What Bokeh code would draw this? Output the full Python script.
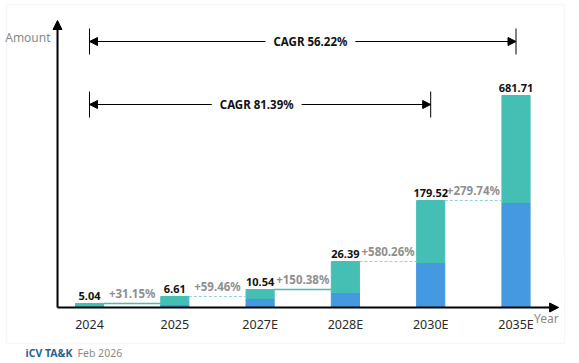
import numpy as np
from bokeh.plotting import figure
from bokeh.models import Range1d, Arrow, NormalHead, Label, BoxAnnotation
from bokeh.core.properties import value
from bokeh.embed import file_html
from bokeh.resources import INLINE

# ---- data ----
years = ["2024", "2025", "2027E", "2028E", "2030E", "2035E"]
totals_label = ["5.04", "6.61", "10.54", "26.39", "179.52", "681.71"]
growth_labels = ["+31.15%", "+59.46%", "+150.38%", "+580.26%", "+279.74%"]
connector_style = ["solid", "dashed", "solid", "dashed", "dashed"]
# segment heights as drawn in the picture (relative display units)
blue_seg = [1, 3, 9, 15, 45, 105]
teal_seg = [3, 8, 9, 31, 62, 107]
cagr_labels = ["CAGR 56.22%", "CAGR 81.39%"]
cagr_spans = [(0, 5), (0, 4)]

FONT = "Noto Sans"
BLUE = "#4499e0"
TEAL = "#45bfb4"

idx = np.arange(len(years), dtype=float)
blue = np.array(blue_seg, dtype=float)
total = blue + np.array(teal_seg, dtype=float)
W = 0.33

p = figure(width=579, height=363, output_backend="svg", toolbar_location=None,
           x_range=Range1d(-1.0434, 5.7444), y_range=Range1d(-56, 307),
           x_axis_type=None, y_axis_type=None, min_border=0)
p.grid.visible = False
p.outline_line_color = None
p.background_fill_color = "white"

# frame
p.add_layout(BoxAnnotation(left=-0.973, right=5.569, top=303, bottom=-36,
                           fill_alpha=0, line_color="#e3e3e3", line_width=1.5))

# bars
p.vbar(x=idx, bottom=0, top=blue, width=W, color=BLUE)
p.vbar(x=idx, bottom=blue, top=total, width=W, color=TEAL)

# connectors
for i, st in enumerate(connector_style):
    x0 = idx[i] + W / 2
    x1 = idx[i + 1] - W / 2
    if st == "solid":
        p.segment(x0=[x0], x1=[x1], y0=[total[i]], y1=[total[i]],
                  line_color=TEAL, line_width=1.5)
    else:
        p.segment(x0=[x0], x1=[x1], y0=[total[i]], y1=[total[i]],
                  line_color="#93cfe6", line_width=1.2, line_dash="3 2")
    p.text(x=[(x0 + x1) / 2], y=[total[i] + 3], text=[growth_labels[i]],
           text_font=value(FONT), text_font_size="11.5px", text_color="#8f8f8f",
           text_align="center", text_baseline="bottom", text_font_style="bold")

# value labels
p.text(x=idx, y=total + 4, text=totals_label, text_font=value(FONT),
       text_font_size="11px", text_font_style="bold", text_color="#111111",
       text_align="center", text_baseline="bottom")

# year labels
p.text(x=idx, y=[-17] * len(idx), text=years, text_font=value(FONT),
       text_font_size="12.5px", text_color="#2a2a2a",
       text_align="center", text_baseline="middle")

# axes arrows
ax_x0 = -0.375
p.add_layout(Arrow(end=NormalHead(size=9, fill_color="black", line_color="black"),
                   x_start=ax_x0, y_start=0, x_end=ax_x0, y_end=287,
                   line_width=2, line_color="black"))
p.add_layout(Arrow(end=NormalHead(size=9, fill_color="black", line_color="black"),
                   x_start=ax_x0, y_start=0, x_end=5.5, y_end=0,
                   line_width=2, line_color="black"))

p.add_layout(Label(x=-0.457, y=270, text="Amount", text_font=FONT, text_font_size="12px",
                   text_color="#8a8a8a", text_align="right", text_baseline="middle"))
p.add_layout(Label(x=5.5, y=-11, text="Year", text_font=FONT, text_font_size="12px",
                   text_color="#8a8a8a", text_align="right", text_baseline="middle"))

# CAGR brackets
for (a, b), lab, yy, cx in zip(cagr_spans, cagr_labels, [266, 203], [2.59, 1.96]):
    p.add_layout(Arrow(start=NormalHead(size=8, fill_color="black", line_color="black"),
                       end=NormalHead(size=8, fill_color="black", line_color="black"),
                       x_start=idx[a], y_start=yy, x_end=idx[b], y_end=yy,
                       line_width=1, line_color="black"))
    p.segment(x0=[idx[a], idx[b]], x1=[idx[a], idx[b]], y0=[yy - 13] * 2, y1=[yy + 13] * 2,
              line_color="black", line_width=1)
    p.add_layout(Label(x=cx, y=yy, text=lab, text_font=FONT, text_font_size="11.5px",
                       text_font_style="bold", text_color="#111111",
                       text_align="center", text_baseline="middle",
                       background_fill_color="white", padding=8))

# footer
p.add_layout(Label(x=-0.75, y=-45, text="iCV TA&K", text_font=FONT, text_font_size="10.5px",
                   text_font_style="bold", text_color="#2b5f93",
                   text_align="left", text_baseline="middle"))
p.add_layout(Label(x=-0.14, y=-45, text="Feb 2026", text_font=FONT, text_font_size="10.5px",
                   text_color="#8a8a8a", text_align="left", text_baseline="middle"))

open("out.html", "w").write(file_html(p, INLINE))
